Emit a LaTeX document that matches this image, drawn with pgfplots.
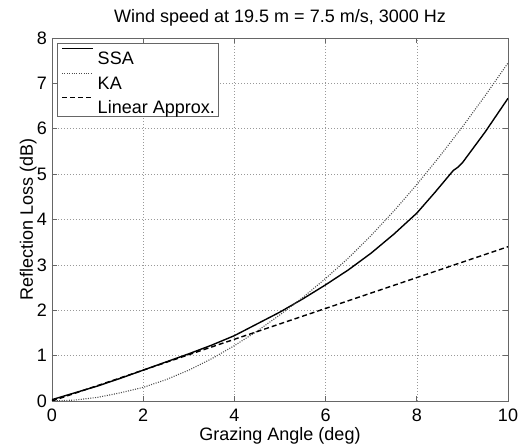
\documentclass[border=0pt]{standalone}
\usepackage{fontspec}
\setmainfont{Liberation Sans}
\usepackage{pgfplots}
\pgfplotsset{compat=1.18}
\begin{document}
\fontsize{18bp}{21bp}\selectfont
\begin{tikzpicture}
\begin{axis}[
  name=ax,
  scale only axis,
  width=456bp, height=363bp,
  xmin=0, xmax=10, ymin=0, ymax=8,
  xtick={0,2,4,6,8,10}, ytick={0,1,2,3,4,5,6,7,8},
  grid=major,
  major grid style={black!40, dash pattern=on 1bp off 2bp, line width=0.5bp},
  axis line style={black!60, line width=0.7bp},
  tick style={black!60, line width=0.7bp},
  tick align=inside, major tick length=5bp,
  /pgf/number format/assume math mode=true,
  ticklabel style={font=\fontsize{18bp}{21bp}\selectfont},
  xticklabel style={anchor=base, inner sep=0pt, yshift=-21bp},
  yticklabel style={anchor=east, inner sep=0pt, xshift=-5bp},
  title={Wind speed at 19.5 m = 7.5 m/s, 3000 Hz},
  title style={at={(rel axis cs:0.5,1.02755)}, anchor=base, inner sep=0pt, font=\fontsize{18bp}{21bp}\selectfont},
  xlabel={Grazing Angle (deg)},
  xlabel style={at={(rel axis cs:0.5,-0.1102)}, anchor=base, inner sep=0pt, font=\fontsize{18bp}{21bp}\selectfont},
  ylabel={Reflection Loss (dB)},
  ylabel style={at={(rel axis cs:-0.04167,0.5)}, anchor=base, inner sep=0pt, font=\fontsize{18bp}{21bp}\selectfont},
  legend cell align=left,
  legend image code/.code={\draw[#1] (0bp,7bp) -- (31bp,7bp);},
  legend style={at={(rel axis cs:0,1)}, anchor=north west, xshift=5bp, yshift=-5bp,
    draw=black!60, line width=0.7bp, fill=white, inner xsep=4bp, inner ysep=0pt,
    row sep=0pt, column sep=4bp,
    font=\fontsize{18bp}{21bp}\selectfont,
    nodes={inner sep=0pt, text height=21.5bp, text depth=3bp}},
]
\addplot[black, line width=1.4bp] coordinates {
(0,0.03) (0.5,0.18) (1,0.33) (1.5,0.50) (2,0.68) (2.5,0.86) (3,1.04) (3.5,1.23)
(4,1.44) (4.5,1.70) (5,1.96) (5.5,2.25) (6,2.56) (6.5,2.89) (7,3.26) (7.5,3.68)
(8,4.14) (8.4,4.60) (8.8,5.08) (8.9,5.15) (9,5.25) (9.5,5.93) (10,6.67)};
\addlegendentry{SSA}
\addplot[black!70, line width=1.1bp, dash pattern=on 1bp off 1.4bp] coordinates {
(0,0) (0.5,0.02) (1,0.08) (1.5,0.18) (2,0.30) (2.5,0.47) (3,0.68) (3.5,0.93)
(4,1.22) (4.5,1.54) (5,1.90) (5.5,2.28) (6,2.70) (6.5,3.15) (7,3.65) (7.5,4.19)
(8,4.77) (8.5,5.39) (9,6.04) (9.5,6.73) (10,7.45)};
\addlegendentry{KA}
\addplot[black, line width=1.4bp, dash pattern=on 5bp off 3bp] coordinates {
(0,0) (10,3.4)};
\addlegendentry{Linear Approx.}
\end{axis}
\path (ax.south west) ++(-52bp,-47bp) (ax.north east) ++(19bp,38bp);
\end{tikzpicture}
\end{document}
